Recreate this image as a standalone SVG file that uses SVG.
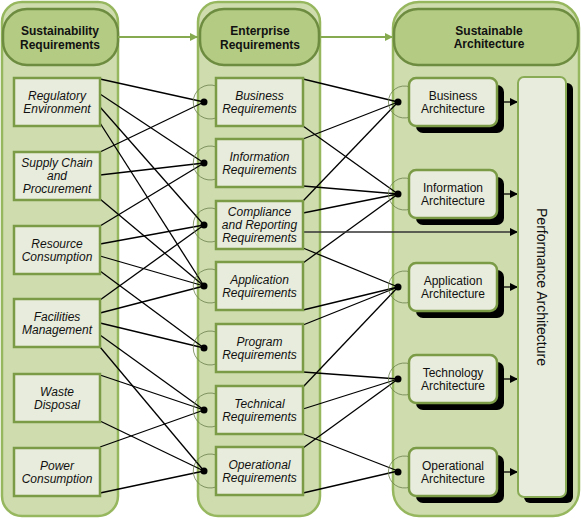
<svg xmlns="http://www.w3.org/2000/svg" width="581" height="519" viewBox="0 0 581 519">
<style>
.cont{fill:#cedcae;stroke:#97b75f;stroke-width:2.5}
.pill{fill:#b4cb84;stroke:#6e8c3f;stroke-width:2.5}
.hdr{font-family:"Liberation Sans",Arial,sans-serif;font-size:12px;font-weight:bold;fill:#111;text-anchor:middle}
.box{fill:#e8ecdc;stroke:#7b9b46;stroke-width:2.5}
.t{font-family:"Liberation Sans",Arial,sans-serif;font-size:12px;fill:#111;text-anchor:middle}
.it{font-style:italic}
.sh{fill:#000}
.arc{fill:none;stroke:#6b7f4a;stroke-width:0.8}
.dot{fill:#000}
.ln{stroke:#000;stroke-width:1.3;fill:none}
.ga{stroke:#86aa4f;stroke-width:2;fill:none}
</style>
<defs>
<marker id="ab" viewBox="0 0 10 10" refX="10" refY="5" markerWidth="9" markerHeight="8" markerUnits="userSpaceOnUse" orient="auto"><path d="M0,0 L10,5 L0,10 z" fill="#000"/></marker>
<marker id="ag" viewBox="0 0 10 10" refX="10" refY="5" markerWidth="8" markerHeight="8" markerUnits="userSpaceOnUse" orient="auto"><path d="M0,0 L10,5 L0,10 z" fill="#86aa4f"/></marker>
</defs>

<g id="col1">
<rect class="cont" x="2" y="2" width="116" height="514" rx="20"/>
<rect class="pill" x="3" y="9" width="115" height="56" rx="24"/>
<text class="hdr" x="60" y="35">Sustainability</text>
<text class="hdr" x="60" y="49">Requirements</text>
</g>
<g id="col2">
<rect class="cont" x="198" y="2" width="122" height="514" rx="20"/>
<rect class="pill" x="200" y="9" width="119" height="56" rx="24"/>
<text class="hdr" x="260" y="35">Enterprise</text>
<text class="hdr" x="260" y="49">Requirements</text>
</g>
<g id="col3">
<rect class="cont" x="393" y="2" width="186" height="514" rx="26"/>
<rect class="pill" x="394" y="9" width="184" height="56" rx="24"/>
<text class="hdr" x="489" y="34.5">Sustainable</text>
<text class="hdr" x="489" y="48">Architecture</text>
</g>

<g id="connectors">
<line class="ga" x1="118" y1="37" x2="198" y2="37" marker-end="url(#ag)"/>
<line class="ga" x1="320" y1="37" x2="393" y2="37" marker-end="url(#ag)"/>
<g class="ln">
<line x1="100" y1="79" x2="204" y2="102"/>
<line x1="100" y1="94" x2="204" y2="163"/>
<line x1="100" y1="107" x2="204" y2="225"/>
<line x1="100" y1="123" x2="204" y2="286"/>
<line x1="100" y1="152" x2="204" y2="102"/>
<line x1="100" y1="175" x2="204" y2="163"/>
<line x1="100" y1="199" x2="204" y2="286"/>
<line x1="100" y1="226" x2="204" y2="163"/>
<line x1="100" y1="244" x2="204" y2="225"/>
<line x1="100" y1="256" x2="204" y2="286"/>
<line x1="100" y1="271" x2="204" y2="348"/>
<line x1="100" y1="300" x2="204" y2="225"/>
<line x1="100" y1="313" x2="204" y2="286"/>
<line x1="100" y1="323" x2="204" y2="348"/>
<line x1="100" y1="335" x2="204" y2="410"/>
<line x1="100" y1="347" x2="204" y2="471"/>
<line x1="100" y1="375" x2="204" y2="410"/>
<line x1="100" y1="421" x2="204" y2="471"/>
<line x1="100" y1="447" x2="204" y2="410"/>
<line x1="100" y1="493" x2="204" y2="471"/>
<line x1="303" y1="79" x2="398" y2="102"/>
<line x1="303" y1="126" x2="398" y2="194"/>
<line x1="303" y1="139" x2="398" y2="102"/>
<line x1="303" y1="186" x2="398" y2="194"/>
<line x1="303" y1="201" x2="398" y2="102"/>
<line x1="303" y1="213" x2="398" y2="194"/>
<line x1="303" y1="248" x2="398" y2="287"/>
<line x1="303" y1="263" x2="398" y2="194"/>
<line x1="303" y1="310" x2="398" y2="287"/>
<line x1="303" y1="325" x2="398" y2="287"/>
<line x1="303" y1="372" x2="398" y2="379"/>
<line x1="303" y1="387" x2="398" y2="287"/>
<line x1="303" y1="409" x2="398" y2="379"/>
<line x1="303" y1="434" x2="398" y2="471"/>
<line x1="303" y1="448" x2="398" y2="379"/>
<line x1="303" y1="493" x2="398" y2="471"/>
</g>
<line x1="303" y1="232" x2="518" y2="232" stroke="#333" stroke-width="1.3" marker-end="url(#ab)"/>
<g class="ln">
<line x1="497" y1="102" x2="518" y2="102" marker-end="url(#ab)"/>
<line x1="497" y1="194" x2="518" y2="194" marker-end="url(#ab)"/>
<line x1="497" y1="287" x2="518" y2="287" marker-end="url(#ab)"/>
<line x1="497" y1="379" x2="518" y2="379" marker-end="url(#ab)"/>
<line x1="497" y1="472" x2="518" y2="472" marker-end="url(#ab)"/>
</g>
</g>

<g id="regulatory"><rect class="box" x="14" y="78" width="86" height="48"/><text class="t it" x="57" y="99.5">Regulatory</text><text class="t it" x="57" y="112.5">Environment</text></g>
<g id="supply"><rect class="box" x="14" y="152" width="86" height="48"/><text class="t it" x="57" y="167">Supply Chain</text><text class="t it" x="57" y="180">and</text><text class="t it" x="57" y="193">Procurement</text></g>
<g id="resource"><rect class="box" x="14" y="226" width="86" height="48"/><text class="t it" x="57" y="247.5">Resource</text><text class="t it" x="57" y="260.5">Consumption</text></g>
<g id="facilities"><rect class="box" x="14" y="299" width="86" height="48"/><text class="t it" x="57" y="320.5">Facilities</text><text class="t it" x="57" y="333.5">Management</text></g>
<g id="waste"><rect class="box" x="14" y="374" width="86" height="48"/><text class="t it" x="57" y="395.5">Waste</text><text class="t it" x="57" y="408.5">Disposal</text></g>
<g id="power"><rect class="box" x="14" y="448" width="86" height="48"/><text class="t it" x="57" y="469.5">Power</text><text class="t it" x="57" y="482.5">Consumption</text></g>

<g id="business-req"><path class="arc" d="M216,86 A17,17 0 1 0 216,118"/><rect class="box" x="216" y="78" width="87" height="48"/><circle class="dot" cx="204" cy="102" r="3.5"/><text class="t it" x="259.5" y="99.5">Business</text><text class="t it" x="259.5" y="112.5">Requirements</text></g>
<g id="information-req"><path class="arc" d="M216,147 A17,17 0 1 0 216,179"/><rect class="box" x="216" y="139" width="87" height="48"/><circle class="dot" cx="204" cy="163" r="3.5"/><text class="t it" x="259.5" y="160.5">Information</text><text class="t it" x="259.5" y="173.5">Requirements</text></g>
<g id="compliance-req"><path class="arc" d="M216,209 A17,17 0 1 0 216,241"/><rect class="box" x="216" y="201" width="87" height="48"/><circle class="dot" cx="204" cy="225" r="3.5"/><text class="t it" x="259.5" y="216">Compliance</text><text class="t it" x="259.5" y="229">and Reporting</text><text class="t it" x="259.5" y="242">Requirements</text></g>
<g id="application-req"><path class="arc" d="M216,270 A17,17 0 1 0 216,302"/><rect class="box" x="216" y="262" width="87" height="48"/><circle class="dot" cx="204" cy="286" r="3.5"/><text class="t it" x="259.5" y="283.5">Application</text><text class="t it" x="259.5" y="296.5">Requirements</text></g>
<g id="program-req"><path class="arc" d="M216,332 A17,17 0 1 0 216,364"/><rect class="box" x="216" y="324" width="87" height="48"/><circle class="dot" cx="204" cy="348" r="3.5"/><text class="t it" x="259.5" y="345.5">Program</text><text class="t it" x="259.5" y="358.5">Requirements</text></g>
<g id="technical-req"><path class="arc" d="M216,394 A17,17 0 1 0 216,426"/><rect class="box" x="216" y="386" width="87" height="48"/><circle class="dot" cx="204" cy="410" r="3.5"/><text class="t it" x="259.5" y="407.5">Technical</text><text class="t it" x="259.5" y="420.5">Requirements</text></g>
<g id="operational-req"><path class="arc" d="M216,455 A17,17 0 1 0 216,487"/><rect class="box" x="216" y="447" width="87" height="48"/><circle class="dot" cx="204" cy="471" r="3.5"/><text class="t it" x="259.5" y="468.5">Operational</text><text class="t it" x="259.5" y="481.5">Requirements</text></g>

<g id="business-arch"><path class="arc" d="M410,87 A16,16 0 1 0 410,117"/><rect class="sh" x="416" y="85" width="88" height="48" rx="7"/><rect class="box" x="409" y="78" width="88" height="48" rx="7"/><circle class="dot" cx="398" cy="102" r="3.5"/><text class="t" x="453" y="99.5">Business</text><text class="t" x="453" y="112.5">Architecture</text></g>
<g id="information-arch"><path class="arc" d="M410,179 A16,16 0 1 0 410,209"/><rect class="sh" x="416" y="177" width="88" height="48" rx="7"/><rect class="box" x="409" y="170" width="88" height="48" rx="7"/><circle class="dot" cx="398" cy="194" r="3.5"/><text class="t" x="453" y="191.5">Information</text><text class="t" x="453" y="204.5">Architecture</text></g>
<g id="application-arch"><path class="arc" d="M410,272 A16,16 0 1 0 410,302"/><rect class="sh" x="416" y="270" width="88" height="48" rx="7"/><rect class="box" x="409" y="263" width="88" height="48" rx="7"/><circle class="dot" cx="398" cy="287" r="3.5"/><text class="t" x="453" y="284.5">Application</text><text class="t" x="453" y="297.5">Architecture</text></g>
<g id="technology-arch"><path class="arc" d="M410,364 A16,16 0 1 0 410,394"/><rect class="sh" x="416" y="362" width="88" height="48" rx="7"/><rect class="box" x="409" y="355" width="88" height="48" rx="7"/><circle class="dot" cx="398" cy="379" r="3.5"/><text class="t" x="453" y="376.5">Technology</text><text class="t" x="453" y="389.5">Architecture</text></g>
<g id="operational-arch"><path class="arc" d="M410,457 A16,16 0 1 0 410,487"/><rect class="sh" x="416" y="455" width="88" height="48" rx="7"/><rect class="box" x="409" y="448" width="88" height="48" rx="7"/><circle class="dot" cx="398" cy="472" r="3.5"/><text class="t" x="453" y="469.5">Operational</text><text class="t" x="453" y="482.5">Architecture</text></g>

<g id="performance-arch"><rect class="sh" x="524" y="83" width="49" height="420" rx="6"/><rect class="box" x="518" y="77" width="48" height="420" rx="6" style="stroke:#8aab55;stroke-width:2"/><text class="t" style="font-size:14px" transform="translate(542,287) rotate(90)" dy="5">Performance Architecture</text></g>
</svg>
